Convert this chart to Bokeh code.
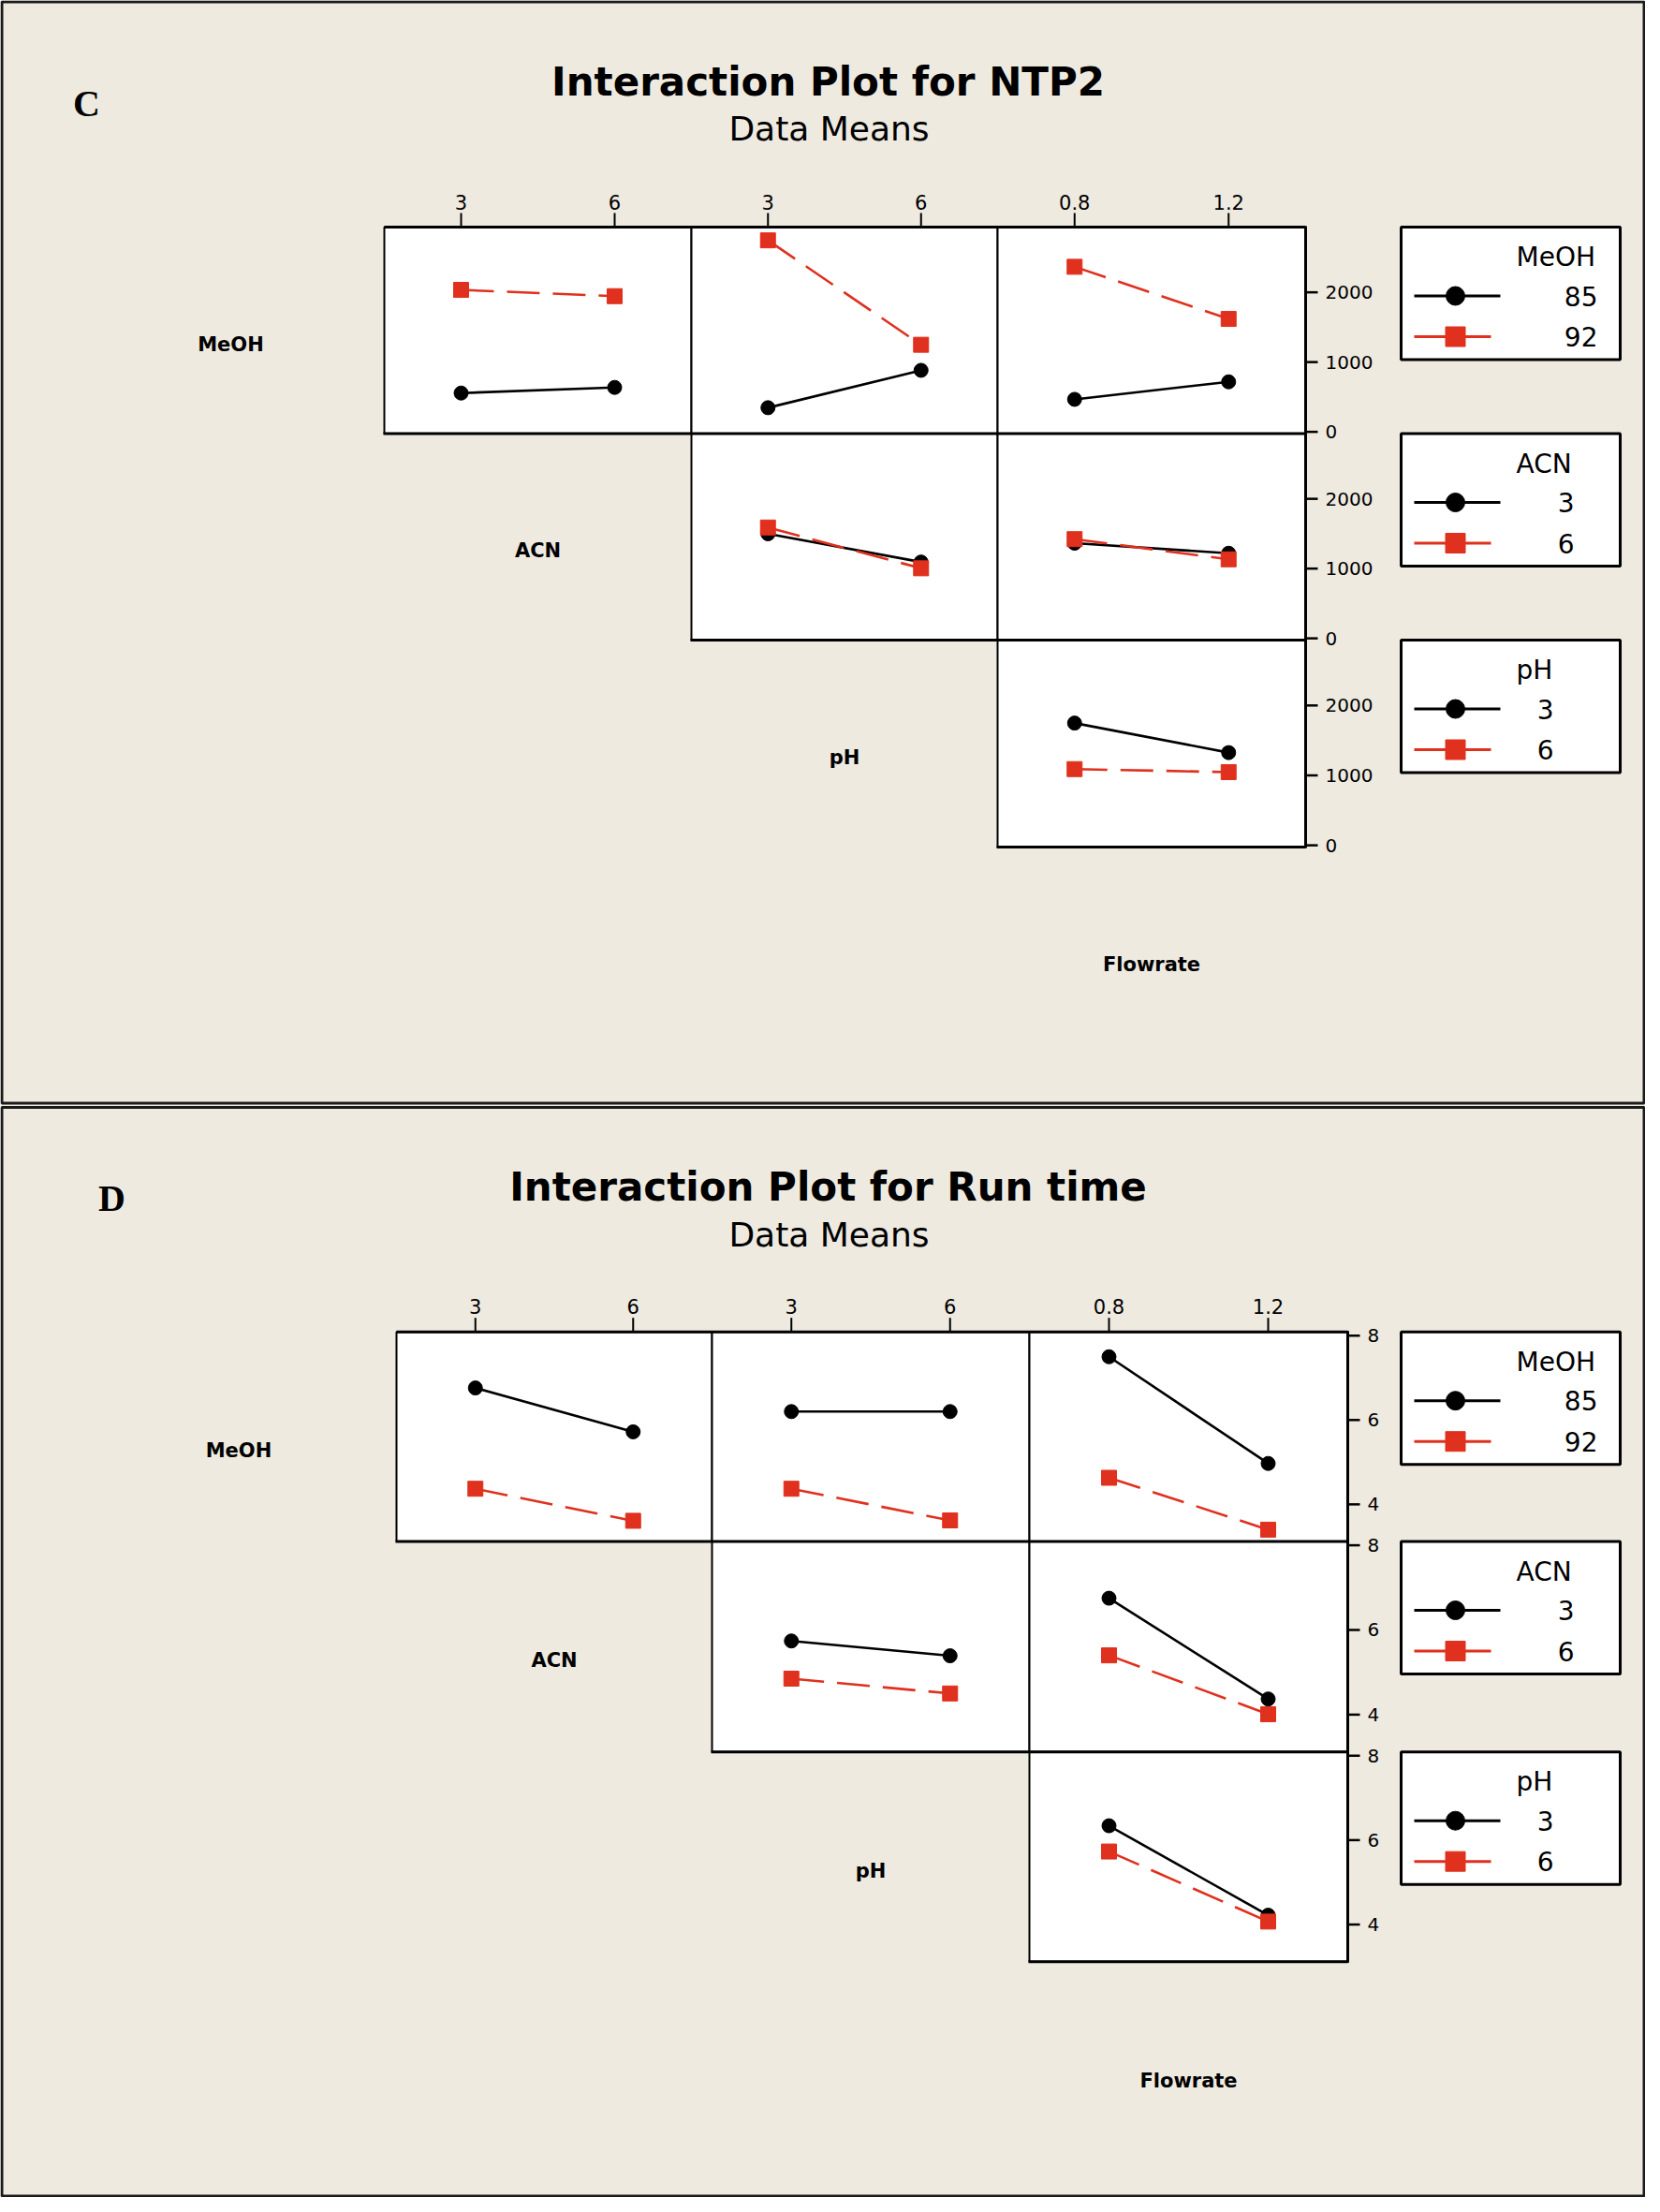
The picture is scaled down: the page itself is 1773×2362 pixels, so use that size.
from bokeh.plotting import figure
from bokeh.models import Range1d
from bokeh.embed import file_html
from bokeh.resources import INLINE
from bokeh.core.properties import value

# ---------------- data ----------------
factors = ["MeOH", "ACN", "pH", "Flowrate"]
meoh_levels = [85, 92]
acn_levels = [3, 6]
ph_levels = [3, 6]
flow_levels = [0.8, 1.2]
factor_levels = [meoh_levels, acn_levels, ph_levels, flow_levels]
level_labels = [["85", "92"], ["3", "6"], ["3", "6"], ["0.8", "1.2"]]

# NTP2 interaction means (trace level low / high, at column factor levels)
ntp2_meoh_acn = [[556, 637], [2035, 1945]]
ntp2_meoh_ph = [[346, 882], [2745, 1248]]
ntp2_meoh_flow = [[466, 717], [2366, 1619]]
ntp2_acn_ph = [[1499, 1094], [1589, 1004]]
ntp2_acn_flow = [[1364, 1220], [1422, 1133]]
ntp2_ph_flow = [[1748, 1326], [1090, 1047]]
ntp2_yticks = [0, 1000, 2000]
ntp2_ytick_labels = ["0", "1000", "2000"]
ntp2_ylim = [-25, 2935]

# Run time interaction means
rt_meoh_acn = [[6.76, 5.72], [4.37, 3.61]]
rt_meoh_ph = [[6.20, 6.20], [4.37, 3.62]]
rt_meoh_flow = [[7.50, 4.97], [4.63, 3.40]]
rt_acn_ph = [[5.74, 5.39], [4.85, 4.50]]
rt_acn_flow = [[6.75, 4.37], [5.40, 4.01]]
rt_ph_flow = [[6.34, 4.22], [5.73, 4.07]]
rt_yticks = [4, 6, 8]
rt_ytick_labels = ["4", "6", "8"]
rt_ylim = [3.12, 8.09]

ntp2_panels = {(0, 1): ntp2_meoh_acn, (0, 2): ntp2_meoh_ph, (0, 3): ntp2_meoh_flow,
               (1, 2): ntp2_acn_ph, (1, 3): ntp2_acn_flow, (2, 3): ntp2_ph_flow}
rt_panels = {(0, 1): rt_meoh_acn, (0, 2): rt_meoh_ph, (0, 3): rt_meoh_flow,
             (1, 2): rt_acn_ph, (1, 3): rt_acn_flow, (2, 3): rt_ph_flow}

# ---------------- layout / style ----------------
W, H = 1757, 2346
X0, Y0 = 0, 0
X1, Y1 = X0 + W, Y0 + H
BG = "#EEEAE0"
RED = "#E0301E"
DARK = "#1a1a1a"
SANS = "DejaVu Sans"

p = figure(width=W, height=H, x_range=Range1d(X0, X1), y_range=Range1d(Y1, Y0),
           toolbar_location=None, output_backend="svg",
           x_axis_location=None, y_axis_location=None, min_border=0,
           outline_line_color=None, background_fill_color=BG, border_fill_color=BG)
p.grid.visible = False


def xr(a, b, d0, d1):
    k = (d1 - d0) / (b - a)
    return Range1d(d0 - (a - X0) * k, d0 + (X1 - a) * k)


def yr(t, bt, v0, v1):
    k = (v1 - v0) / (bt - t)
    return Range1d(v0 - (Y1 - bt) * k, v1 + (t - Y0) * k)


def txt(x, y, s, size, bold=False, align="center", font=SANS, baseline="middle", **kw):
    p.text(x=[x], y=[y], text=[s], text_font=value(font), text_font_size=size,
           text_font_style=value("bold" if bold else "normal"), text_align=align,
           text_baseline=baseline, text_color="black", **kw)


sections = [
    dict(key="c", letter="C", letter_xy=(92, 110), title="Interaction Plot for NTP2",
         title_y=87, sub_y=137, frame=(1.5, 1177.5),
         cols=[82, 410, 738, 1065, 1394], rows=[242, 462.5, 683, 904, 1124.5],
         ylim=ntp2_ylim, yticks=ntp2_yticks, ylabels=ntp2_ytick_labels,
         panels=ntp2_panels, ticklab_y=215),
    dict(key="d", letter="D", letter_xy=(119, 1279), title="Interaction Plot for Run time",
         title_y=1267, sub_y=1318, frame=(1182, Y1 - 1.5),
         cols=[86, 423, 760, 1099, 1439], rows=[1421.7, 1645.5, 1870.2, 2094.2, 2318.4],
         ylim=rt_ylim, yticks=rt_yticks, ylabels=rt_ytick_labels,
         panels=rt_panels, ticklab_y=1394),
]

legend_x = (1496, 1730)
legend_val_right = [1706, 1681, 1659]

for s in sections:
    k = s["key"]
    cols, rows = s["cols"], s["rows"]
    # outer frame
    p.quad(left=[1.5], right=[X1 - 1.5], top=[s["frame"][0]], bottom=[s["frame"][1]],
           fill_color=BG, line_color=DARK, line_width=3)
    txt(s["letter_xy"][0], s["letter_xy"][1], s["letter"], "40px", bold=True, font="Liberation Serif")
    txt(884, s["title_y"], s["title"], "42px", bold=True)
    txt(885, s["sub_y"], "Data Means", "36px")

    # ranges
    for j in range(1, 4):
        lv = factor_levels[j]
        span = lv[1] - lv[0]
        p.extra_x_ranges[f"{k}x{j}"] = xr(cols[j], cols[j + 1], lv[0] - span / 2, lv[1] + span / 2)
    for i in range(3):
        p.extra_y_ranges[f"{k}y{i}"] = yr(rows[i], rows[i + 1], s["ylim"][0], s["ylim"][1])

    # diagonal labels
    for i, name in enumerate(factors):
        txt((cols[i] + cols[i + 1]) / 2, (rows[i] + rows[i + 1]) / 2 + 15, name, "21px", bold=True)

    # panels
    for (i, j) in s["panels"]:
        p.quad(left=[cols[j]], right=[cols[j + 1]], top=[rows[i]], bottom=[rows[i + 1]],
               fill_color="white", line_color="black", line_width=2)
    p.segment(x0=[cols[1]], y0=[rows[0]], x1=[cols[4]], y1=[rows[0]], line_color="black", line_width=3)
    for i in range(3):
        p.segment(x0=[cols[i + 1] - 1], y0=[rows[i + 1]], x1=[cols[4]], y1=[rows[i + 1]],
                  line_color="black", line_width=3)
    p.segment(x0=[cols[4]], y0=[rows[0] - 1], x1=[cols[4]], y1=[rows[3] + 1], line_color="black", line_width=3)

    # top ticks
    for j in range(1, 4):
        lv = factor_levels[j]
        p.segment(x0=lv, y0=[rows[0] - 15] * 2, x1=lv, y1=[rows[0]] * 2,
                  x_range_name=f"{k}x{j}", line_color="black", line_width=2)
        p.text(x=lv, y=[s["ticklab_y"]] * 2, text=level_labels[j], x_range_name=f"{k}x{j}",
               text_font=value(SANS), text_font_size="21px", text_align="center",
               text_baseline="middle", text_color="black")
    # right ticks
    for i in range(3):
        yt = s["yticks"]
        p.segment(x0=[cols[4]] * 3, y0=yt, x1=[cols[4] + 13] * 3, y1=yt,
                  y_range_name=f"{k}y{i}", line_color="black", line_width=2.5)
        p.text(x=[cols[4] + 21] * 3, y=yt, text=s["ylabels"], y_range_name=f"{k}y{i}",
               text_font=value(SANS), text_font_size="20px", text_align="left",
               text_baseline="middle", text_color="black")

    # data lines and markers
    for (i, j), series in s["panels"].items():
        xv = factor_levels[j]
        xn, yn = f"{k}x{j}", f"{k}y{i}"
        p.line(x=xv, y=series[0], x_range_name=xn, y_range_name=yn, line_color="black", line_width=2.6)
        p.line(x=xv, y=series[1], x_range_name=xn, y_range_name=yn, line_color=RED, line_width=2.6,
               line_dash="35 14")
        p.scatter(x=xv, y=series[0], x_range_name=xn, y_range_name=yn, marker="circle", size=15,
                  fill_color="black", line_color="black")
        p.scatter(x=xv, y=series[1], x_range_name=xn, y_range_name=yn, marker="square", size=16,
                  fill_color=RED, line_color=RED)

    # legends
    for i in range(3):
        top = rows[i]
        p.quad(left=[legend_x[0]], right=[legend_x[1]], top=[top], bottom=[top + 141.5],
               fill_color="white", line_color="black", line_width=3)
        txt(1619, top + 32, factors[i], "28px", align="left")
        y1, y2 = top + 73.5, top + 117
        p.segment(x0=[1510, 1510], y0=[y1, y2], x1=[1602, 1592], y1=[y1, y2],
                  line_color=["black", RED], line_width=3)
        p.scatter(x=[1554], y=[y1], marker="circle", size=20, fill_color="black", line_color="black")
        p.scatter(x=[1554], y=[y2], marker="square", size=21, fill_color=RED, line_color=RED)
        p.text(x=[legend_val_right[i]] * 2, y=[y1, y2], text=level_labels[i],
               text_font=value(SANS), text_font_size="28px", text_align="right",
               text_baseline="middle", text_color="black")

open("out.html", "w").write(file_html(p, INLINE))
